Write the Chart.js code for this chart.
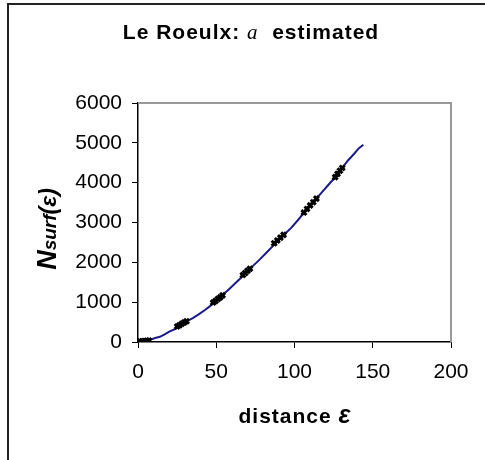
<!DOCTYPE html>
<html>
<head>
<meta charset="utf-8">
<script src="https://cdn.jsdelivr.net/npm/chart.js@4.4.0/dist/chart.umd.min.js"></script>
<style>
  html, body { margin: 0; padding: 0; background: #fff; }
  #wrap { width: 485px; height: 460px; }
</style>
</head>
<body>
<div id="wrap"><canvas id="chart" width="485" height="460"></canvas></div>
<script>
// curve N_surf(eps)
const curveEps = [5, 8, 11, 14, 17, 20, 24, 27, 31, 35, 39, 43, 46, 50, 54, 58, 62, 66, 70, 74,
  78, 82, 86, 90, 94, 98, 102, 106, 110, 114, 118, 122, 126, 130, 134, 138, 141, 144];
const curveN = [30, 60, 100, 130, 190, 260, 330, 430, 520, 600, 700, 810, 900, 1050, 1180, 1320, 1470, 1620, 1780, 1930,
  2080, 2240, 2400, 2560, 2720, 2870, 3050, 3240, 3430, 3600, 3780, 3960, 4140, 4340, 4550, 4720, 4860, 4950];

// black marker clusters
const markEps = [1, 2.5, 4, 5.5, 7, 25, 26.5, 28, 29.5, 31, 48, 49.5, 51, 52.5, 54, 67, 68.5, 70, 71.5,
  87, 89, 91, 93, 106, 108, 110, 112, 114, 126, 127.5, 129, 130.5];
const markN = [15, 20, 25, 30, 35, 390, 420, 460, 490, 520, 990, 1030, 1080, 1120, 1170, 1680, 1730, 1790, 1840,
  2480, 2550, 2620, 2690, 3250, 3340, 3430, 3510, 3600, 4140, 4220, 4300, 4370];

const xTicks = [0, 50, 100, 150, 200];
const yTicks = [0, 1000, 2000, 3000, 4000, 5000, 6000];

const toPts = (xs, ys) => xs.map((x, i) => ({ x: x, y: ys[i] }));

const FONT = '"Liberation Sans", Arial, sans-serif';

function drawParts(ctx, parts, cx, cy, spacing) {
  ctx.letterSpacing = (spacing || 0) + 'px';
  let total = 0;
  parts.forEach(p => { ctx.font = p.font; p.w = ctx.measureText(p.text).width; total += p.w; });
  let x = cx - total / 2;
  parts.forEach(p => {
    ctx.font = p.font;
    ctx.fillText(p.text, x, cy + (p.dy || 0));
    x += p.w;
  });
  ctx.letterSpacing = '0px';
}

const decor = {
  id: 'decor',
  beforeDraw(chart) {
    const ctx = chart.ctx;
    ctx.save();
    // outer frame
    ctx.strokeStyle = '#222';
    ctx.lineWidth = 2;
    ctx.beginPath();
    ctx.moveTo(8, 460);
    ctx.lineTo(8, 4);
    ctx.lineTo(485, 4);
    ctx.stroke();
    ctx.restore();
  },
  afterDraw(chart) {
    const ctx = chart.ctx;
    const a = chart.chartArea;
    ctx.save();
    // gray top/right plot border
    ctx.strokeStyle = '#999';
    ctx.lineWidth = 2;
    ctx.beginPath();
    ctx.moveTo(a.left, a.top);
    ctx.lineTo(a.right, a.top);
    ctx.lineTo(a.right, a.bottom);
    ctx.stroke();

    ctx.fillStyle = '#000';
    ctx.textBaseline = 'alphabetic';
    ctx.textAlign = 'left';
    // title
    drawParts(ctx, [
      { text: 'Le Roeulx: ', font: 'bold 21px ' + FONT },
      { text: 'a', font: 'italic 21px "Liberation Serif", serif' },
      { text: '  estimated', font: 'bold 21px ' + FONT }
    ], 251, 39, 1);
    // x title
    drawParts(ctx, [
      { text: 'distance ', font: 'bold 21px ' + FONT },
      { text: 'ε', font: 'bold italic 25px ' + FONT }
    ], 295, 423, 1);
    // y title
    ctx.translate(56, 229);
    ctx.rotate(-Math.PI / 2);
    drawParts(ctx, [
      { text: 'N', font: 'bold italic 27px ' + FONT },
      { text: 'surf', font: 'bold italic 19px ' + FONT },
      { text: '(ε)', font: 'bold italic 23px ' + FONT }
    ], 0, 0, 0);
    ctx.restore();
  }
};

new Chart(document.getElementById('chart'), {
  type: 'scatter',
  data: {
    datasets: [
      {
        data: toPts(curveEps, curveN),
        showLine: true,
        borderColor: '#1a1a8c',
        borderWidth: 2,
        pointRadius: 0,
        tension: 0,
        order: 2
      },
      {
        data: toPts(markEps, markN),
        showLine: false,
        pointStyle: 'crossRot',
        pointRadius: 3.5,
        borderColor: '#000',
        borderWidth: 3,
        order: 1
      }
    ]
  },
  plugins: [decor],
  options: {
    responsive: false,
    animation: false,
    layout: { padding: { left: 0, right: 34, top: 103, bottom: 0 } },
    plugins: { legend: { display: false }, tooltip: { enabled: false }, title: { display: false } },
    scales: {
      x: {
        type: 'linear',
        min: 0, max: 200,
        afterBuildTicks: s => { s.ticks = xTicks.map(v => ({ value: v })); },
        afterFit: s => { s.height = 118; },
        grid: { drawOnChartArea: false, drawTicks: true, tickLength: 6, color: '#000' },
        border: { color: '#000', width: 1.5 },
        ticks: { color: '#000', padding: 12, maxRotation: 0, callback: v => String(v), font: { family: FONT, size: 21 } }
      },
      y: {
        type: 'linear',
        min: 0, max: 6000,
        afterBuildTicks: s => { s.ticks = yTicks.map(v => ({ value: v })); },
        afterFit: s => { s.width = 138; },
        grid: { drawOnChartArea: false, drawTicks: true, tickLength: 6, color: '#000' },
        border: { color: '#000', width: 1.5 },
        ticks: { color: '#000', padding: 10, callback: v => String(v), font: { family: FONT, size: 21 } }
      }
    }
  }
});
</script>
</body>
</html>
